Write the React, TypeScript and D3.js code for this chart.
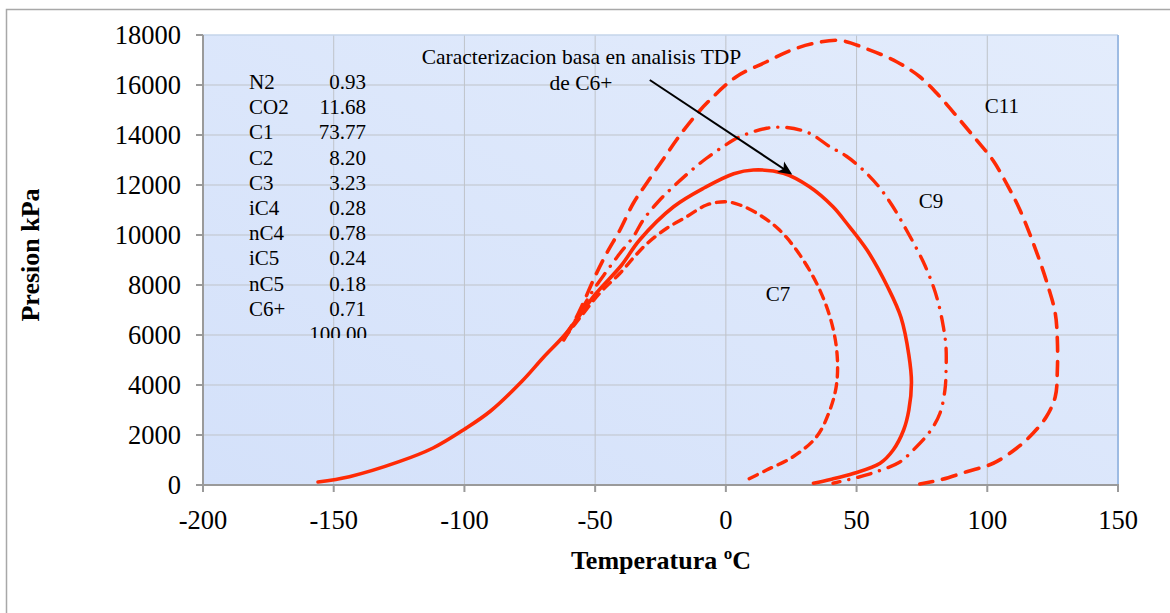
import React from "react";
import * as d3 from "d3";

// Phase envelopes: temperature (ºC) / pressure (kPa)
const baseC6: [number, number][] = [
  [-156, 120], [-144, 333], [-125, 933], [-112, 1480], [-100, 2230], [-90, 2960],
  [-78, 4150], [-70, 5080], [-61, 6080], [-50, 7620], [-40, 8780], [-33, 9800],
  [-20, 11130], [-8, 11900], [3, 12450], [10.5, 12600], [22, 12470], [32, 11930],
  [41, 11130], [46, 10500], [54, 9400], [62, 7900], [67, 6700], [70, 5200],
  [71, 4100], [70, 3000], [68, 2200], [64, 1400], [59, 870], [49, 470], [40, 220], [33.5, 70],
];
const c7: [number, number][] = [
  [-62, 5850], [-55, 6800], [-48, 7700], [-40.5, 8470], [-35, 9130], [-30, 9670],
  [-22.6, 10270], [-15, 10730], [-7.4, 11200], [0, 11330], [5.4, 11200], [13, 10800],
  [20, 10250], [27, 9400], [34.7, 8070], [39.8, 6730], [42.4, 5400], [42.4, 4070],
  [39.8, 3000], [34.7, 1930], [25.7, 1130], [15.6, 600], [8.5, 230],
];
const c9: [number, number][] = [
  [-62, 5800], [-59.7, 6200], [-54.6, 7130], [-50.7, 7800], [-45.6, 8550], [-40.5, 9270],
  [-35.4, 9930], [-31.6, 10600], [-25.9, 11330], [-20.1, 11930], [-13.8, 12530],
  [-7.4, 13070], [-0.4, 13580], [5.4, 13930], [15.6, 14270], [23.2, 14300], [32, 14070],
  [39.8, 13530], [46, 13160], [52.5, 12600], [58.3, 11960], [63.5, 11200], [69.6, 10100],
  [75.5, 8930], [79.4, 7930], [81.3, 7270], [83.2, 6330], [84.2, 5530], [84.2, 4470],
  [83.8, 3800], [81.9, 2870], [78, 2130], [71.7, 1400], [66.4, 910], [57.6, 530],
  [50.6, 310], [41, 70],
];
const c11: [number, number][] = [
  [-62, 5900], [-58.4, 6470], [-54.6, 7270], [-50.7, 8200], [-45.6, 9270], [-40.5, 10200],
  [-35.4, 11270], [-30.3, 12070], [-23.3, 13130], [-18.9, 13800], [-12.5, 14670],
  [-6.1, 15400], [4, 16330], [15.6, 16930], [24.5, 17370], [33, 17650], [43.6, 17780],
  [53.8, 17450], [65.3, 16930], [74.2, 16330], [81.9, 15530], [89.5, 14600], [95.9, 13800],
  [102.1, 13000], [107.3, 12070], [112.5, 11000], [119.5, 9130], [123.3, 7930], [126, 6870],
  [126.8, 5800], [126.8, 4600], [126, 3530], [122.6, 2730], [117.5, 2070], [111.2, 1470],
  [102.3, 870], [92.1, 530], [81.9, 200], [74.2, 40],
];

const xTicks = [-200, -150, -100, -50, 0, 50, 100, 150];
const yTicks = [0, 2000, 4000, 6000, 8000, 10000, 12000, 14000, 16000, 18000];

// Gas composition (mol %)
const components = ["N2", "CO2", "C1", "C2", "C3", "iC4", "nC4", "iC5", "nC5", "C6+"];
const fractions = ["0.93", "11.68", "73.77", "8.20", "3.23", "0.28", "0.78", "0.24", "0.18", "0.71"];
const total = "100.00";

const curveLabels: { name: string; t: number; p: number }[] = [
  { name: "C7", t: 15.3, p: 7380 },
  { name: "C9", t: 73.8, p: 11100 },
  { name: "C11", t: 99, p: 14900 },
];

const note = {
  line1: "Caracterizacion basa en analisis TDP",
  line2: "de C6+",
  from: [-29.1, 16200] as [number, number],
  to: [24.5, 12480] as [number, number],
};

const W = 1170;
const H = 613;
const plot = { left: 203, right: 1118, top: 35, bottom: 485 };
const RED = "#ff2a05";
const SERIF = "'Liberation Serif', 'Times New Roman', serif";

export default function App() {
  const x = d3.scaleLinear().domain([-200, 150]).range([plot.left, plot.right]);
  const y = d3.scaleLinear().domain([0, 18000]).range([plot.bottom, plot.top]);
  const line = d3
    .line<[number, number]>()
    .x((d) => x(d[0]))
    .y((d) => y(d[1]))
    .curve(d3.curveCatmullRom.alpha(0.5));

  const series = [
    { data: c11, dash: "14 10", width: 3.6 },
    { data: c9, dash: "14 9 0.1 9", width: 3.4 },
    { data: c7, dash: "9 7", width: 3.4 },
    { data: baseC6, dash: undefined, width: 3.6 },
  ];

  const tableTop = 81.7;
  const rowH = 25.2;

  return (
    <svg
      width={W}
      height={H}
      style={{ position: "absolute", left: 0, top: 0 }}
      fontFamily={SERIF}
    >
      <defs>
        <linearGradient id="plotBg" x1="0" y1="1" x2="1" y2="0">
          <stop offset="0%" stopColor="#d4e1fa" />
          <stop offset="100%" stopColor="#e3ecfc" />
        </linearGradient>
        <clipPath id="tableClip">
          <rect x={200} y={60} width={200} height={278} />
        </clipPath>
        <marker
          id="arrowHead"
          viewBox="0 0 10 10"
          refX="8"
          refY="5"
          markerWidth="7"
          markerHeight="7"
          orient="auto"
        >
          <path d="M0,0.5 L10,5 L0,9.5 L2.5,5 Z" fill="#000" />
        </marker>
      </defs>

      <rect x={0} y={0} width={W} height={H} fill="#fff" />
      <rect x={6.5} y={9.5} width={W + 10} height={H + 10} fill="none" stroke="#a8a8a8" strokeWidth={1.5} />

      <rect
        x={plot.left}
        y={plot.top}
        width={plot.right - plot.left}
        height={plot.bottom - plot.top}
        fill="url(#plotBg)"
      />

      {/* grid */}
      {xTicks.slice(1, -1).map((t) => (
        <line key={"gx" + t} x1={x(t)} x2={x(t)} y1={plot.top} y2={plot.bottom} stroke="#bfc3c9" strokeWidth={1} />
      ))}
      {yTicks.slice(1, -1).map((t) => (
        <line key={"gy" + t} x1={plot.left} x2={plot.right} y1={y(t)} y2={y(t)} stroke="#bfc3c9" strokeWidth={1} />
      ))}
      <line x1={plot.left} x2={plot.right} y1={plot.top} y2={plot.top} stroke="#c5d4ea" strokeWidth={1.5} />
      <line x1={plot.right} x2={plot.right} y1={plot.top} y2={plot.bottom} stroke="#9dbbe3" strokeWidth={2} />

      {/* axes */}
      <line x1={plot.left} x2={plot.left} y1={plot.top} y2={plot.bottom} stroke="#9a9a9a" strokeWidth={2} />
      <line x1={plot.left} x2={plot.right + 1} y1={plot.bottom} y2={plot.bottom} stroke="#9a9a9a" strokeWidth={2} />
      {yTicks.map((t) => (
        <g key={"ty" + t}>
          <line x1={plot.left - 7} x2={plot.left} y1={y(t)} y2={y(t)} stroke="#9a9a9a" strokeWidth={2} />
          <text x={181} y={y(t)} dy="0.35em" textAnchor="end" fontSize={26.5} fill="#000">
            {t}
          </text>
        </g>
      ))}
      {xTicks.map((t) => (
        <g key={"tx" + t}>
          <line x1={x(t)} x2={x(t)} y1={plot.bottom} y2={plot.bottom + 7} stroke="#9a9a9a" strokeWidth={2} />
          <text x={x(t)} y={529} textAnchor="middle" fontSize={26.5} fill="#000">
            {t}
          </text>
        </g>
      ))}

      <text x={661} y={569} textAnchor="middle" fontSize={26} fontWeight="bold" fill="#000">
        Temperatura ºC
      </text>
      <text
        transform={`translate(39, ${255}) rotate(-90)`}
        textAnchor="middle"
        fontSize={26}
        fontWeight="bold"
        fill="#000"
      >
        Presion kPa
      </text>

      {/* composition table */}
      <g clipPath="url(#tableClip)" fontSize={21} fill="#000">
        {components.map((c, i) => (
          <g key={c}>
            <text x={249} y={tableTop + i * rowH} dy="0.35em">
              {c}
            </text>
            <text x={366} y={tableTop + i * rowH} dy="0.35em" textAnchor="end">
              {fractions[i]}
            </text>
          </g>
        ))}
        <text x={367} y={tableTop + components.length * rowH} dy="0.35em" textAnchor="end">
          {total}
        </text>
      </g>

      {/* envelopes */}
      {series.map((s, i) => (
        <path
          key={i}
          d={line(s.data) ?? ""}
          fill="none"
          stroke={RED}
          strokeWidth={s.width}
          strokeDasharray={s.dash}
          strokeLinecap="round"
          strokeLinejoin="round"
        />
      ))}

      {curveLabels.map((l) => (
        <text key={l.name} x={x(l.t)} y={y(l.p)} fontSize={21} fill="#000">
          {l.name}
        </text>
      ))}

      {/* annotation */}
      <text x={581.5} y={64} textAnchor="middle" fontSize={21.5} fill="#000">
        {note.line1}
      </text>
      <text x={581} y={90} textAnchor="middle" fontSize={21.5} fill="#000">
        {note.line2}
      </text>
      <line
        x1={x(note.from[0])}
        y1={y(note.from[1])}
        x2={x(note.to[0])}
        y2={y(note.to[1])}
        stroke="#000"
        strokeWidth={2}
        markerEnd="url(#arrowHead)"
      />
    </svg>
  );
}
